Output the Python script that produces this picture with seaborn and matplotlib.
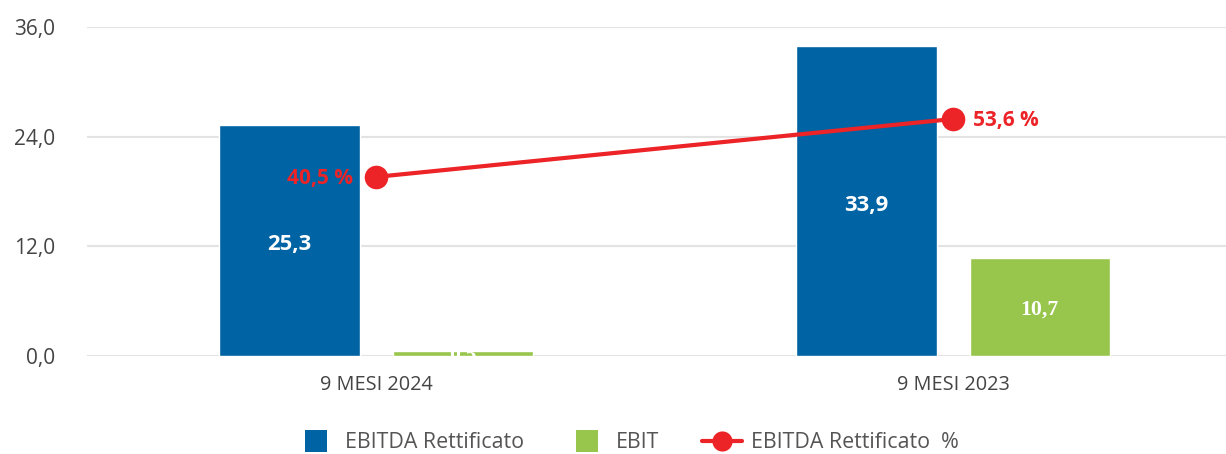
import pandas as pd
import seaborn as sns
from matplotlib import pyplot as plt
from matplotlib.lines import Line2D

# dati
periodi = ['9 MESI 2024', '9 MESI 2023']
ebitda = [25.3, 33.9]
ebit = [0.5, 10.7]
ebitda_pct = [40.5, 53.6]
serie = ['EBITDA Rettificato', 'EBIT']

blu = '#0063a3'
verde = '#98c54c'
rosso = '#ec2327'
grigio = '#444444'

sns.set_theme(style='white')
plt.rcParams['font.family'] = ['Open Sans', 'DejaVu Sans']

df = pd.DataFrame({
    'Periodo': periodi * 2,
    'Serie': [serie[0]] * 2 + [serie[1]] * 2,
    'Valore': ebitda + ebit,
})

fig = plt.figure(figsize=(12.26, 4.54), dpi=100)
ax = fig.add_axes([0.071, 0.216, 0.929, 0.7245])

sns.barplot(data=df, x='Periodo', y='Valore', hue='Serie', palette=[blu, verde],
            width=0.6, gap=0.19, saturation=1, ax=ax, legend=False)

ax.set_ylim(0, 36)
ax.set_xlim(-0.501, 1.473)
ax.set_yticks([0, 12, 24, 36])
ax.set_yticklabels(['0,0', '12,0', '24,0', '36,0'])
ax.grid(axis='y', color='#e3e3e3', linewidth=1.5)
ax.set_axisbelow(True)
for s in ax.spines.values():
    s.set_visible(False)
ax.tick_params(axis='y', length=0, colors=grigio, labelsize=15, pad=23)
ax.tick_params(axis='x', length=0, colors=grigio, labelsize=14.3, pad=14)
ax.set_xlabel('')
ax.set_ylabel('')

# etichette barre
for i, v in enumerate(ebitda):
    ax.text(i - 0.15, v / 2 - 0.5, f'{v:.1f}'.replace('.', ','), ha='center', va='center',
            color='white', fontsize=15.8, fontweight='bold')
for i, v in enumerate(ebit):
    fam = ['Liberation Serif', 'DejaVu Serif']
    ypos = v / 2 - 0.3 if v > 2 else 0.2
    ax.text(i + 0.15, ypos, f'{v:.1f}'.replace('.', ','), ha='center', va='center',
            color='white', fontsize=15.7, fontweight='bold', family=fam)

# linea percentuale su asse secondario
ax2 = ax.twinx()
sns.lineplot(x=[0, 1], y=ebitda_pct, ax=ax2, color=rosso, linewidth=3,
             marker='o', markersize=17, markeredgewidth=0)
ax2.set_ylim(0, 74.4)
ax2.set_xlim(-0.501, 1.473)
ax2.axis('off')
ax2.text(0 - 0.04, ebitda_pct[0] - 0.4, f'{ebitda_pct[0]:.1f} %'.replace('.', ','), ha='right',
         va='center', color=rosso, fontsize=15, fontweight='bold')
ax2.text(1 + 0.035, ebitda_pct[1] - 0.4, f'{ebitda_pct[1]:.1f} %'.replace('.', ','), ha='left',
         va='center', color=rosso, fontsize=15, fontweight='bold')

handles = [
    Line2D([0], [0], color='none', marker='s', markersize=16.5, markerfacecolor=blu,
           markeredgewidth=0),
    Line2D([0], [0], color='none', marker='s', markersize=16.5, markerfacecolor=verde,
           markeredgewidth=0),
    Line2D([0], [0], color=rosso, linewidth=3, marker='o', markersize=14.5, markeredgewidth=0),
]
fig.legend(handles, ['EBITDA Rettificato', 'EBIT', 'EBITDA Rettificato  %'],
           loc='center', bbox_to_anchor=(0.512, 0.025), ncol=3, frameon=False,
           fontsize=15.4, labelcolor='#555555', handlelength=1.87,
           columnspacing=2.0, handletextpad=0.42, borderpad=0)

fig.savefig('out.png', dpi=100)
